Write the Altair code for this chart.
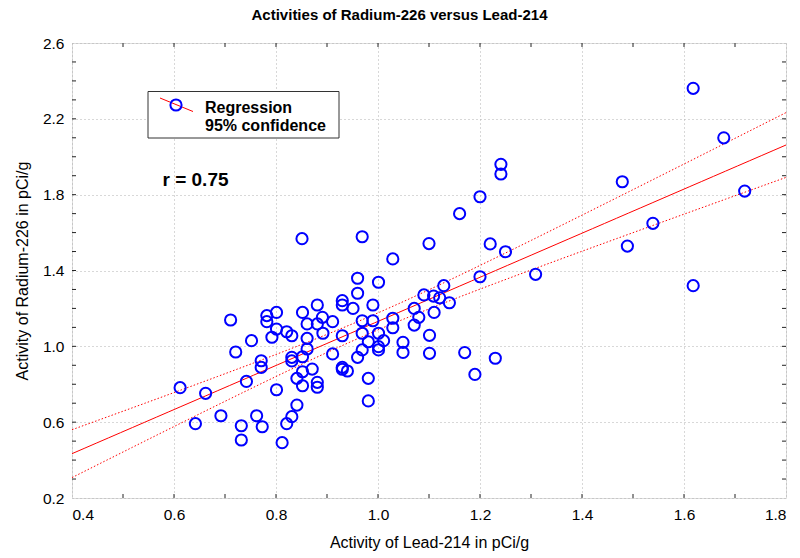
import altair as alt
import numpy as np
import pandas as pd

# Lead-214 activity (pCi/g) for each sample
lead_214 = [
    0.612, 0.642, 0.662, 0.692, 0.711, 0.721, 0.732, 0.732, 0.742, 0.752,
    0.762, 0.771, 0.771, 0.773, 0.782, 0.782, 0.792, 0.801, 0.801, 0.801,
    0.812, 0.821, 0.821, 0.831, 0.831, 0.831, 0.831, 0.841, 0.841, 0.852,
    0.852, 0.852, 0.852, 0.861, 0.861, 0.861, 0.871, 0.881, 0.881, 0.881,
    0.881, 0.891, 0.892, 0.911, 0.911, 0.930, 0.930, 0.930, 0.930, 0.930,
    0.940, 0.951, 0.960, 0.960, 0.960, 0.969, 0.969, 0.969, 0.981, 0.981,
    0.981, 0.990, 0.990, 1.001, 1.001, 1.001, 1.001, 1.011, 1.029, 1.029,
    1.029, 1.049, 1.049, 1.071, 1.071, 1.080, 1.090, 0.851, 0.969, 1.100,
    1.160, 1.200, 1.220, 1.241, 1.241, 1.250, 1.479, 1.489, 1.539, 1.618,
    1.678, 1.719, 1.200, 1.309, 1.129, 1.109, 1.121, 1.140, 1.110, 1.101,
    1.101, 1.170, 1.190, 1.230, 1.618,
]

# Radium-226 activity (pCi/g) for the same samples
radium_226 = [
    0.782, 0.592, 0.752, 0.634, 1.139, 0.970, 0.581, 0.506, 0.815, 1.030,
    0.634, 0.924, 0.889, 0.576, 1.162, 1.130, 1.048, 1.179, 1.091, 0.771,
    0.492, 1.077, 0.592, 1.056, 0.942, 0.923, 0.629, 0.831, 0.690, 1.179,
    0.945, 0.866, 0.792, 1.118, 1.042, 0.986, 0.880, 1.218, 1.118, 0.810,
    0.784, 1.153, 1.069, 1.130, 0.960, 1.241, 1.218, 1.056, 0.889, 0.879,
    0.870, 1.200, 1.359, 1.280, 0.942, 1.135, 1.069, 0.981, 1.024, 0.831,
    0.712, 1.218, 1.135, 1.338, 1.069, 0.998, 0.981, 1.030, 1.461, 1.148,
    1.098, 1.021, 0.968, 1.200, 1.112, 1.153, 1.271, 1.568, 1.578, 1.542,
    1.700, 1.789, 1.540, 1.960, 1.909, 1.499, 1.868, 1.529, 1.649, 2.361,
    2.100, 1.819, 1.367, 1.380, 1.320, 1.265, 1.256, 1.230, 1.179, 1.058,
    0.963, 0.967, 0.852, 0.937, 1.320,
]

x_labels = [0.4, 0.6, 0.8, 1.0, 1.2, 1.4, 1.6, 1.8]
y_labels = [0.2, 0.6, 1.0, 1.4, 1.8, 2.2, 2.6]
x_minor = [0.5, 0.6, 0.7, 0.8, 0.9, 1.0, 1.1, 1.2, 1.3, 1.4, 1.5, 1.6, 1.7]
y_minor = [0.3, 0.4, 0.5, 0.6, 0.7, 0.8, 0.9, 1.0, 1.1, 1.2, 1.3, 1.4, 1.5,
           1.6, 1.7, 1.8, 1.9, 2.0, 2.1, 2.2, 2.3, 2.4, 2.5]
r_text = "r = 0.75"
title_text = "Activities of Radium-226 versus Lead-214"

W, H = 714, 455
FONT = "Liberation Sans"
RED = "#ff0000"
BLUE = "#0000ff"

pts = pd.DataFrame({"pb": lead_214, "ra": radium_226})

# ordinary least squares fit with 95% confidence band for the mean
xa = np.array(lead_214)
ya = np.array(radium_226)
n = len(xa)
slope, intercept = np.polyfit(xa, ya, 1)
resid = ya - (intercept + slope * xa)
s = np.sqrt(np.sum(resid ** 2) / (n - 2))
sxx = np.sum((xa - xa.mean()) ** 2)
t_crit = 1.984
grid_x = np.linspace(0.4, 1.8, 60)
fit = intercept + slope * grid_x
half = t_crit * s * np.sqrt(1.0 / n + (grid_x - xa.mean()) ** 2 / sxx)
band = pd.DataFrame({"pb": grid_x, "fit": fit, "lo": fit - half, "hi": fit + half})

xscale = alt.Scale(domain=[0.4, 1.8], nice=False, zero=False)
yscale = alt.Scale(domain=[0.2, 2.6], nice=False, zero=False)

x_axis = alt.Axis(
    title="Activity of Lead-214 in pCi/g", values=x_labels, format=".1f",
    domain=False, ticks=False, labelPadding=9, labelFontSize=15.5,
    titleFontSize=16, titleFontWeight="normal", titlePadding=12,
    gridDash=[1, 3], gridColor="#b0b0b0", labelColor="#000", titleColor="#000",
    labelFont=FONT, titleFont=FONT,
)
y_axis = alt.Axis(
    title="Activity of Radium-226 in pCi/g", values=y_labels, format=".1f",
    domain=False, ticks=False, labelPadding=8, labelFontSize=15.5,
    titleFontSize=16, titleFontWeight="normal", titlePadding=12,
    gridDash=[1, 3], gridColor="#b0b0b0", labelColor="#000", titleColor="#000",
    labelFont=FONT, titleFont=FONT,
)

base = alt.Chart(pts)

points = base.mark_point(
    shape="circle", filled=False, color=BLUE, size=125, strokeWidth=2, opacity=1
).encode(
    x=alt.X("pb:Q", scale=xscale, axis=x_axis),
    y=alt.Y("ra:Q", scale=yscale, axis=y_axis),
)

fit_line = alt.Chart(band).mark_line(color=RED, strokeWidth=1).encode(
    x=alt.X("pb:Q", scale=xscale), y=alt.Y("fit:Q", scale=yscale)
)
hi_line = alt.Chart(band).mark_line(color=RED, strokeWidth=1, strokeDash=[1.5, 2]).encode(
    x=alt.X("pb:Q", scale=xscale), y=alt.Y("hi:Q", scale=yscale)
)
lo_line = alt.Chart(band).mark_line(color=RED, strokeWidth=1, strokeDash=[1.5, 2]).encode(
    x=alt.X("pb:Q", scale=xscale), y=alt.Y("lo:Q", scale=yscale)
)

# inward minor ticks on all four sides of the frame
xt = pd.DataFrame({"v": x_minor})
yt = pd.DataFrame({"v": y_minor})
tick_style = dict(color="#222", strokeWidth=1)
ticks_bottom = alt.Chart(xt).mark_rule(**tick_style).encode(
    x=alt.X("v:Q", scale=xscale), y=alt.value(H), y2=alt.value(H - 4))
ticks_top = alt.Chart(xt).mark_rule(**tick_style).encode(
    x=alt.X("v:Q", scale=xscale), y=alt.value(0), y2=alt.value(4))
ticks_left = alt.Chart(yt).mark_rule(**tick_style).encode(
    y=alt.Y("v:Q", scale=yscale), x=alt.value(0), x2=alt.value(4))
ticks_right = alt.Chart(yt).mark_rule(**tick_style).encode(
    y=alt.Y("v:Q", scale=yscale), x=alt.value(W), x2=alt.value(W - 4))

# legend box
one = pd.DataFrame({"k": [0]})
legend_box = alt.Chart(one).mark_rect(
    fill="white", stroke="#333", strokeWidth=1
).encode(x=alt.value(76), x2=alt.value(267), y=alt.value(48.5), y2=alt.value(95))
legend_line = alt.Chart(one).mark_rule(color=RED, strokeWidth=1).encode(
    x=alt.value(88), x2=alt.value(121), y=alt.value(55), y2=alt.value(68.5))
legend_dot = alt.Chart(one).mark_point(
    shape="circle", filled=False, color=BLUE, size=125, strokeWidth=2, opacity=1
).encode(x=alt.value(104), y=alt.value(62))
leg_text = pd.DataFrame({"label": ["Regression", "95% confidence"], "yy": [69.5, 87.5]})
legend_text = alt.Chart(leg_text).mark_text(
    align="left", baseline="alphabetic", font=FONT, fontSize=16,
    fontWeight="bold", color="#000"
).encode(x=alt.value(133), y=alt.Y("yy:Q", scale=None), text="label:N")

r_label = alt.Chart(pd.DataFrame({"t": [r_text]})).mark_text(
    align="left", baseline="alphabetic", font=FONT, fontSize=19,
    fontWeight="bold", color="#000"
).encode(x=alt.value(90.5), y=alt.value(142.5), text="t:N")

# chart heading, centred over the whole figure
heading = alt.Chart(pd.DataFrame({"t": [title_text]})).mark_text(
    align="center", baseline="alphabetic", font=FONT, fontSize=15,
    fontWeight="bold", color="#000"
).encode(x=alt.value(327.5), y=alt.value(-22.8), text="t:N")

chart = alt.layer(
    hi_line, lo_line, fit_line, points,
    ticks_bottom, ticks_top, ticks_left, ticks_right,
    legend_box, legend_line, legend_dot, legend_text, r_label, heading,
).properties(
    width=W, height=H,
    autosize=alt.AutoSizeParams(type="none"),
    padding={"left": 72, "top": 43, "right": 14, "bottom": 60},
).configure_view(
    stroke="#505050", strokeWidth=1.5
).configure(background="white")

chart.save("out.html", embed_options={"renderer": "svg", "actions": False})
